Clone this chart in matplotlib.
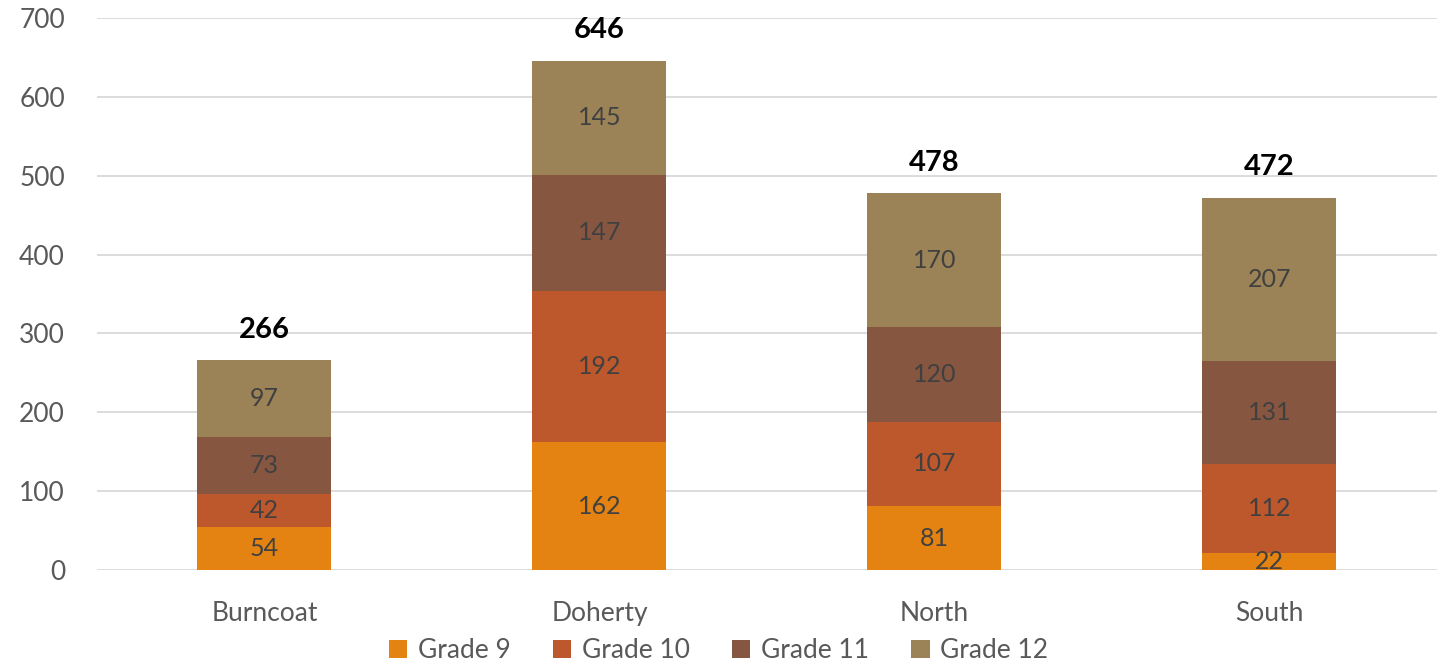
import numpy as np
import matplotlib
matplotlib.use("Agg")
from matplotlib import pyplot as plt

schools = ["Burncoat", "Doherty", "North", "South"]
grade9 = [54, 162, 81, 22]
grade10 = [42, 192, 107, 112]
grade11 = [73, 147, 120, 131]
grade12 = [97, 145, 170, 207]
totals = [266, 646, 478, 472]
series_names = ["Grade 9", "Grade 10", "Grade 11", "Grade 12"]
colors = ["#E48312", "#BD582C", "#865640", "#9B8357"]

plt.rcParams['font.family'] = ['Lato', 'DejaVu Sans']

fig = plt.figure(figsize=(14.37, 6.64), dpi=100)
ax = fig.add_axes([0.0675, 0.1416, 0.9325, 0.8314])

x = np.arange(len(schools))
bottom = np.zeros(len(schools))
for name, vals, col in zip(series_names, [grade9, grade10, grade11, grade12], colors):
    vals = np.array(vals)
    bars = ax.bar(x, vals, 0.4, bottom=bottom, color=col, label=name, zorder=3)
    for xi, b, v in zip(x, bottom, vals):
        ax.text(xi, b + v / 2, str(v), ha='center', va='center', fontsize=18,
                color='#404040', zorder=4)
    bottom += vals

for xi, t in zip(x, totals):
    ax.text(xi, t + 22, str(t), ha='center', va='bottom', fontsize=21,
            fontweight='bold', color='black')

ax.set_ylim(0, 700)
ax.set_xlim(-0.5, 3.5)
ax.set_yticks(range(0, 701, 100))
ax.set_xticks(x)
ax.set_xticklabels(schools)
ax.tick_params(axis='both', length=0, labelsize=19, labelcolor='#595959')
ax.tick_params(axis='y', pad=23)
ax.tick_params(axis='x', pad=22)
ax.yaxis.grid(True, color='#D9D9D9', linewidth=1.3, zorder=0)
for s in ax.spines.values():
    s.set_visible(False)

leg = fig.legend(loc='lower center', ncol=4, bbox_to_anchor=(0.5, -0.035), frameon=False,
                 fontsize=19, handlelength=0.7, handleheight=0.7, handletextpad=0.4,
                 columnspacing=1.6)
for t in leg.get_texts():
    t.set_color('#595959')

fig.savefig("out.png", dpi=100)
